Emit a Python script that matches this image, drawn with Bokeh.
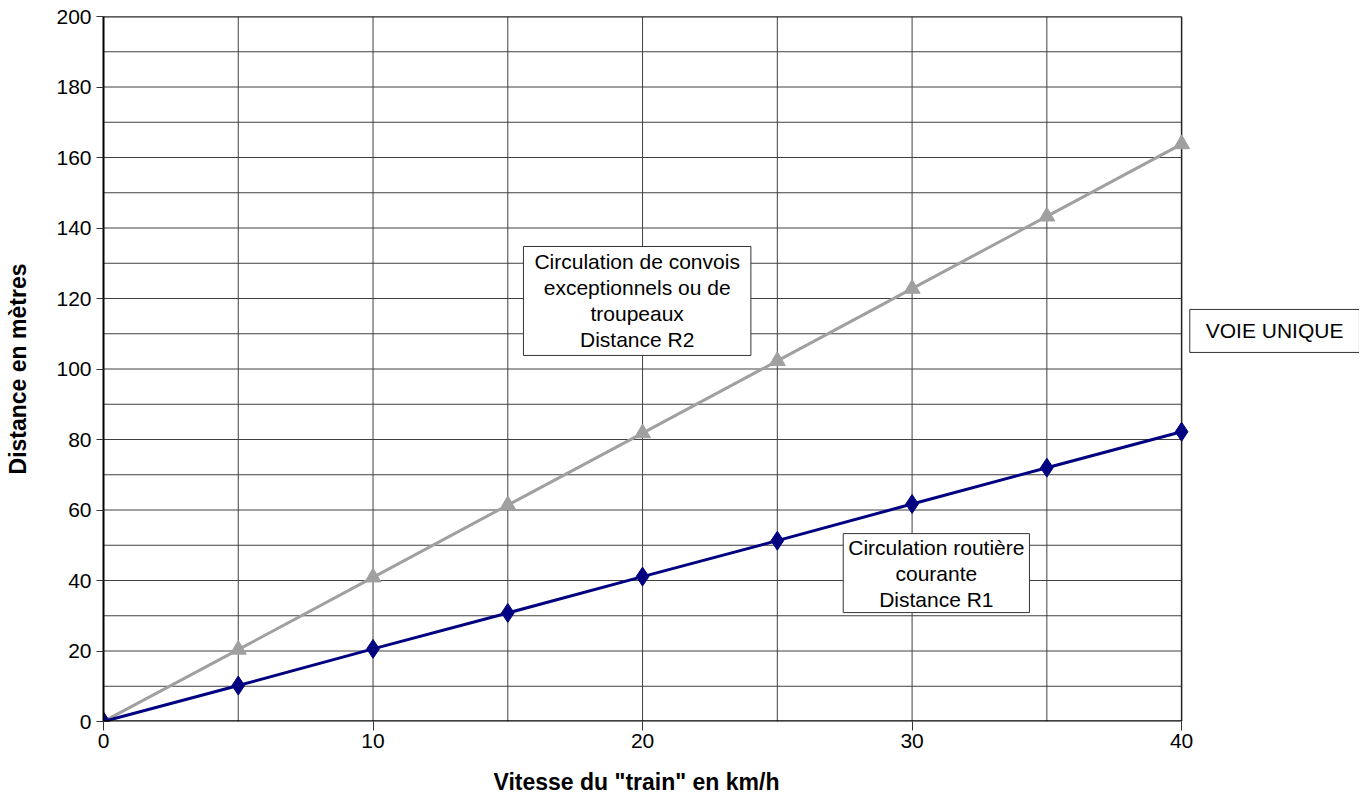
from bokeh.plotting import figure
from bokeh.models import Label, FixedTicker, Range1d, Title
from bokeh.embed import file_html
from bokeh.resources import INLINE

vitesse = [0, 5, 10, 15, 20, 25, 30, 35, 40]
distance_r1 = [0, 10.2, 20.6, 30.8, 41.1, 51.3, 61.7, 72.0, 82.2]
distance_r2 = [0, 20.4, 40.9, 61.4, 81.8, 102.3, 122.8, 143.3, 163.8]
x_ticks = [0, 10, 20, 30, 40]
y_ticks = [0, 20, 40, 60, 80, 100, 120, 140, 160, 180, 200]
y_grid = list(range(10, 201, 10))
x_grid = [5, 10, 15, 20, 25, 30, 35]

FONT = "Liberation Sans"
X_MAX = 40
Y_MAX = 200

p = figure(width=1359, height=810, output_backend="svg", toolbar_location=None,
           x_range=Range1d(0, 46.6), y_range=Range1d(0, Y_MAX),
           min_border_left=103, min_border_right=0, min_border_top=16, min_border_bottom=89)

p.outline_line_color = None
p.background_fill_color = "white"

# axes
p.xaxis.ticker = FixedTicker(ticks=x_ticks)
p.yaxis.ticker = FixedTicker(ticks=y_ticks)
for ax in (p.xaxis[0], p.yaxis[0]):
    ax.axis_line_color = "black"
    ax.axis_line_width = 2
    ax.major_tick_line_color = "#333333"
    ax.major_tick_in = 0
    ax.minor_tick_line_color = None
    ax.major_label_text_font = FONT
    ax.major_label_text_font_size = "21px"
    ax.major_label_text_color = "black"
p.xaxis.axis_line_color = None
p.xaxis.major_tick_out = 9
p.yaxis.major_tick_out = 7
p.xaxis.major_label_standoff = 3
p.yaxis.major_label_standoff = 5

p.yaxis.axis_label = "Distance en mètres"
p.yaxis.axis_label_text_font = FONT
p.yaxis.axis_label_text_font_size = "23px"
p.yaxis.axis_label_text_font_style = "bold"
p.yaxis.axis_label_text_color = "black"
p.yaxis.axis_label_standoff = 22

# x axis title (placed as a title so it lines up with the 0-40 part of the frame)
x_title = Title(text='Vitesse du "train" en km/h', align="left", offset=390,
                text_font=FONT, text_font_size="23px", text_font_style="bold",
                text_color="black", standoff=32)
p.add_layout(x_title, "below")

# grid (drawn by hand so that the frame can hold the side note and the last markers)
p.xgrid.visible = False
p.ygrid.visible = False
p.segment(x0=[0] * len(y_grid), y0=y_grid, x1=[X_MAX] * len(y_grid), y1=y_grid,
          line_color="#404040", line_width=1)
p.segment(x0=x_grid, y0=[0] * len(x_grid), x1=x_grid, y1=[Y_MAX] * len(x_grid),
          line_color="#404040", line_width=1)
p.segment(x0=[X_MAX], y0=[0], x1=[X_MAX], y1=[Y_MAX], line_color="#222222", line_width=1.5)
p.segment(x0=[0], y0=[Y_MAX], x1=[X_MAX], y1=[Y_MAX], line_color="#222222", line_width=2)

# series
p.line(vitesse, distance_r2, line_color="#a0a0a0", line_width=3)
p.scatter(vitesse, distance_r2, marker="triangle", size=16, fill_color="#a0a0a0", line_color="#a0a0a0")
p.line(vitesse, distance_r1, line_color="#000080", line_width=3)
p.scatter(vitesse, distance_r1, marker="diamond", size=19, fill_color="#000080", line_color="#000080")

# bottom axis line
p.segment(x0=[0], y0=[0], x1=[X_MAX], y1=[0], line_color="black", line_width=2.5)

def box(text, x, y, pad):
    lab = Label(x=x, y=y, text=text, text_align="center", text_baseline="middle",
                anchor="center", text_font=FONT, text_font_size="21px", text_color="black",
                text_line_height=1.13,
                background_fill_color="white", background_fill_alpha=1.0,
                border_line_color="#333333", border_line_width=1, padding=pad)
    p.add_layout(lab)

box("Circulation de convois\nexceptionnels ou de\ntroupeaux\nDistance R2", 19.8, 119.3, (11, 4))
box("Circulation routière\ncourante\nDistance R1", 30.9, 42.1, (5, 2))
box("VOIE UNIQUE", 43.45, 110.8, (16, 10))

open("out.html", "w").write(file_html(p, INLINE))
